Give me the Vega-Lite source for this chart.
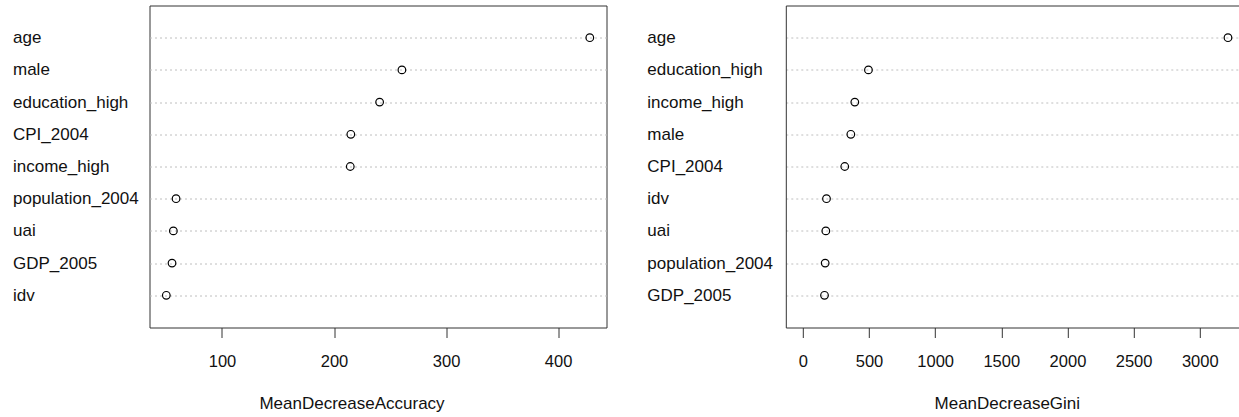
{
  "$schema": "https://vega.github.io/schema/vega-lite/v6.json",
  "padding": {"left": 11.5, "top": 4.5, "right": 0, "bottom": 0},
  "background": "white",
  "bounds": "flush",
  "spacing": 179.3,
  "datasets": {
    "accuracy": [
      {"variable": "age", "rank": 1, "value": 428.3},
      {"variable": "male", "rank": 2, "value": 260.6},
      {"variable": "education_high", "rank": 3, "value": 240.7},
      {"variable": "CPI_2004", "rank": 4, "value": 215.0},
      {"variable": "income_high", "rank": 5, "value": 214.5},
      {"variable": "population_2004", "rank": 6, "value": 59.0},
      {"variable": "uai", "rank": 7, "value": 56.6},
      {"variable": "GDP_2005", "rank": 8, "value": 55.4},
      {"variable": "idv", "rank": 9, "value": 50.3}
    ],
    "gini": [
      {"variable": "age", "rank": 1, "value": 3213},
      {"variable": "education_high", "rank": 2, "value": 496},
      {"variable": "income_high", "rank": 3, "value": 393},
      {"variable": "male", "rank": 4, "value": 363},
      {"variable": "CPI_2004", "rank": 5, "value": 317},
      {"variable": "idv", "rank": 6, "value": 179},
      {"variable": "uai", "rank": 7, "value": 174},
      {"variable": "population_2004", "rank": 8, "value": 169},
      {"variable": "GDP_2005", "rank": 9, "value": 164}
    ]
  },
  "config": {
    "font": "Liberation Sans",
    "axis": {
      "labelFont": "Liberation Sans",
      "titleFont": "Liberation Sans",
      "labelColor": "#111",
      "titleColor": "#111",
      "titleFontWeight": "normal",
      "domainColor": "#333",
      "tickColor": "#333"
    }
  },
  "hconcat": [
    {
      "width": 457,
      "height": 322,
      "view": {"stroke": "#333", "strokeWidth": 1},
      "data": {"name": "accuracy"},
      "mark": {"type": "point", "shape": "circle", "filled": false, "stroke": "#000", "strokeWidth": 1.2, "size": 58, "opacity": 1},
      "encoding": {
        "x": {
          "field": "value",
          "type": "quantitative",
          "scale": {"domain": [35.3, 443.2], "nice": false, "zero": false},
          "axis": {
            "values": [100, 200, 300, 400],
            "format": "d",
            "grid": false,
            "domain": false,
            "tickSize": 10,
            "labelPadding": 16,
            "labelFontSize": 16.5,
            "title": "MeanDecreaseAccuracy",
            "titleFontSize": 17,
            "titleBaseline": "alphabetic",
            "titleAnchor": "middle",
            "titleX": 202,
            "titleY": 80.5
          }
        },
        "y": {
          "field": "variable",
          "type": "nominal",
          "sort": {"field": "rank", "order": "ascending"},
          "scale": {"type": "point", "padding": 1},
          "axis": {
            "title": null,
            "domain": false,
            "ticks": true,
            "tickSize": 0,
            "labelAlign": "left",
            "labelBaseline": "middle",
            "labelPadding": 137,
            "labelFontSize": 17,
            "grid": true,
            "gridColor": "#bebebe",
            "gridDash": [2, 3],
            "gridWidth": 1
          }
        }
      }
    },
    {
      "width": 454,
      "height": 322,
      "view": {"stroke": null},
      "data": {"name": "gini"},
      "resolve": {"axis": {"x": "independent"}},
      "layer": [
        {
          "mark": {"type": "point", "shape": "circle", "filled": false, "stroke": "#000", "strokeWidth": 1.2, "size": 58, "opacity": 1},
          "encoding": {
            "x": {
              "field": "value",
              "type": "quantitative",
              "scale": {"domain": [-128.5, 3302.3], "nice": false, "zero": false},
              "axis": {
                "orient": "bottom",
                "values": [0, 500, 1000, 1500, 2000, 2500, 3000],
                "format": "d",
                "grid": false,
                "domain": true,
                "tickSize": 10,
                "labelPadding": 16,
                "labelFontSize": 16.5,
                "title": "MeanDecreaseGini",
                "titleFontSize": 17,
                "titleBaseline": "alphabetic",
                "titleAnchor": "middle",
                "titleX": 221,
                "titleY": 80.5
              }
            },
            "y": {
              "field": "variable",
              "type": "nominal",
              "sort": {"field": "rank", "order": "ascending"},
              "scale": {"type": "point", "padding": 1},
              "axis": {
                "title": null,
                "domain": true,
                "ticks": true,
                "tickSize": 0,
                "labelAlign": "left",
                "labelBaseline": "middle",
                "labelPadding": 139,
                "labelFontSize": 17,
                "grid": true,
                "gridColor": "#bebebe",
                "gridDash": [2, 3],
                "gridWidth": 1
              }
            }
          }
        },
        {
          "mark": {"type": "point", "opacity": 0},
          "encoding": {
            "x": {
              "field": "value",
              "type": "quantitative",
              "axis": {
                "orient": "top",
                "domain": true,
                "ticks": false,
                "labels": false,
                "grid": false,
                "title": null
              }
            },
            "y": {
              "field": "variable",
              "type": "nominal",
              "sort": {"field": "rank", "order": "ascending"}
            }
          }
        }
      ]
    }
  ]
}
